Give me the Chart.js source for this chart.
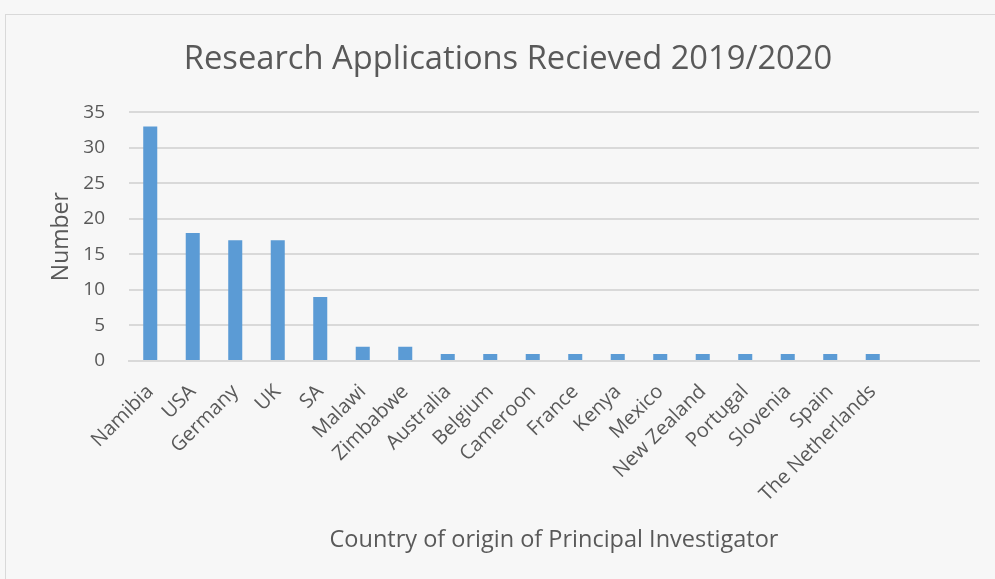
<!DOCTYPE html>
<html>
<head>
<meta charset="utf-8">
<script src="https://cdn.jsdelivr.net/npm/chart.js@4/dist/chart.umd.min.js"></script>
<style>
  html, body { margin: 0; padding: 0; background: #f7f7f7; overflow: hidden; }
  #frame { position: absolute; left: 5px; top: 14px; width: 1000px; height: 600px;
           border-left: 1px solid #d9d9d9; border-top: 1px solid #d9d9d9; }
  #wrap { position: absolute; left: 0; top: 0; width: 995px; height: 579px; }
</style>
</head>
<body>
<div id="frame"></div>
<div id="wrap"><canvas id="chart"></canvas></div>
<script>
// countries (two empty slots at the end, as in the original sheet)
var countries = ["Namibia", "USA", "Germany", "UK", "SA", "Malawi", "Zimbabwe", "Australia",
  "Belgium", "Cameroon", "France", "Kenya", "Mexico", "New Zealand", "Portugal", "Slovenia",
  "Spain", "The Netherlands", "", ""];
var applications = [33, 18, 17, 17, 9, 2, 2, 1, 1, 1, 1, 1, 1, 1, 1, 1, 1, 1, null, null];
var yTicks = [0, 5, 10, 15, 20, 25, 30, 35];

var textColor = '#595959';
var gridColor = '#d9d9d9';
var fontFam = '"Open Sans", sans-serif';

var ctx = document.getElementById('chart').getContext('2d');
var chart = new Chart(ctx, {
    type: 'bar',
    data: {
        labels: countries,
        datasets: [{
            label: 'Number',
            data: applications,
            backgroundColor: '#5b9bd5',
            barPercentage: 0.33,
            categoryPercentage: 1.0
        }]
    },
    options: {
        responsive: true,
        maintainAspectRatio: false,
        animation: false,
        layout: { padding: { left: 37, right: 16, top: 0, bottom: 0 } },
        plugins: {
            legend: { display: false },
            tooltip: { enabled: false },
            title: {
                display: true,
                text: 'Research Applications Recieved 2019/2020',
                color: textColor,
                font: { family: fontFam, size: 32.7, weight: 'normal' },
                padding: { top: 40, bottom: 33 }
            }
        },
        scales: {
            x: {
                afterFit: function (axis) { axis.height = 218; },
                grid: { display: false },
                border: { display: true, color: gridColor, width: 2 },
                ticks: {
                    color: textColor,
                    font: { family: fontFam, size: 20 },
                    minRotation: 45,
                    maxRotation: 45,
                    autoSkip: false,
                    padding: 11
                },
                title: {
                    display: true,
                    text: 'Country of origin of Principal Investigator',
                    color: textColor,
                    font: { family: fontFam, size: 23.5 },
                    padding: { top: 0, bottom: 25 }
                }
            },
            y: {
                min: 0,
                max: 35,
                afterFit: function (axis) { axis.width = 92; },
                afterBuildTicks: function (axis) {
                    axis.ticks = yTicks.map(function (v) { return { value: v }; });
                },
                grid: { color: gridColor, lineWidth: 2, drawTicks: false },
                border: { display: false },
                ticks: {
                    color: textColor,
                    font: { family: fontFam, size: 19 },
                    padding: 24
                },
                title: {
                    display: true,
                    text: 'Number',
                    color: textColor,
                    font: { family: fontFam, size: 23 },
                    padding: { top: 11, bottom: 0 }
                }
            }
        }
    }
});
</script>
</body>
</html>
